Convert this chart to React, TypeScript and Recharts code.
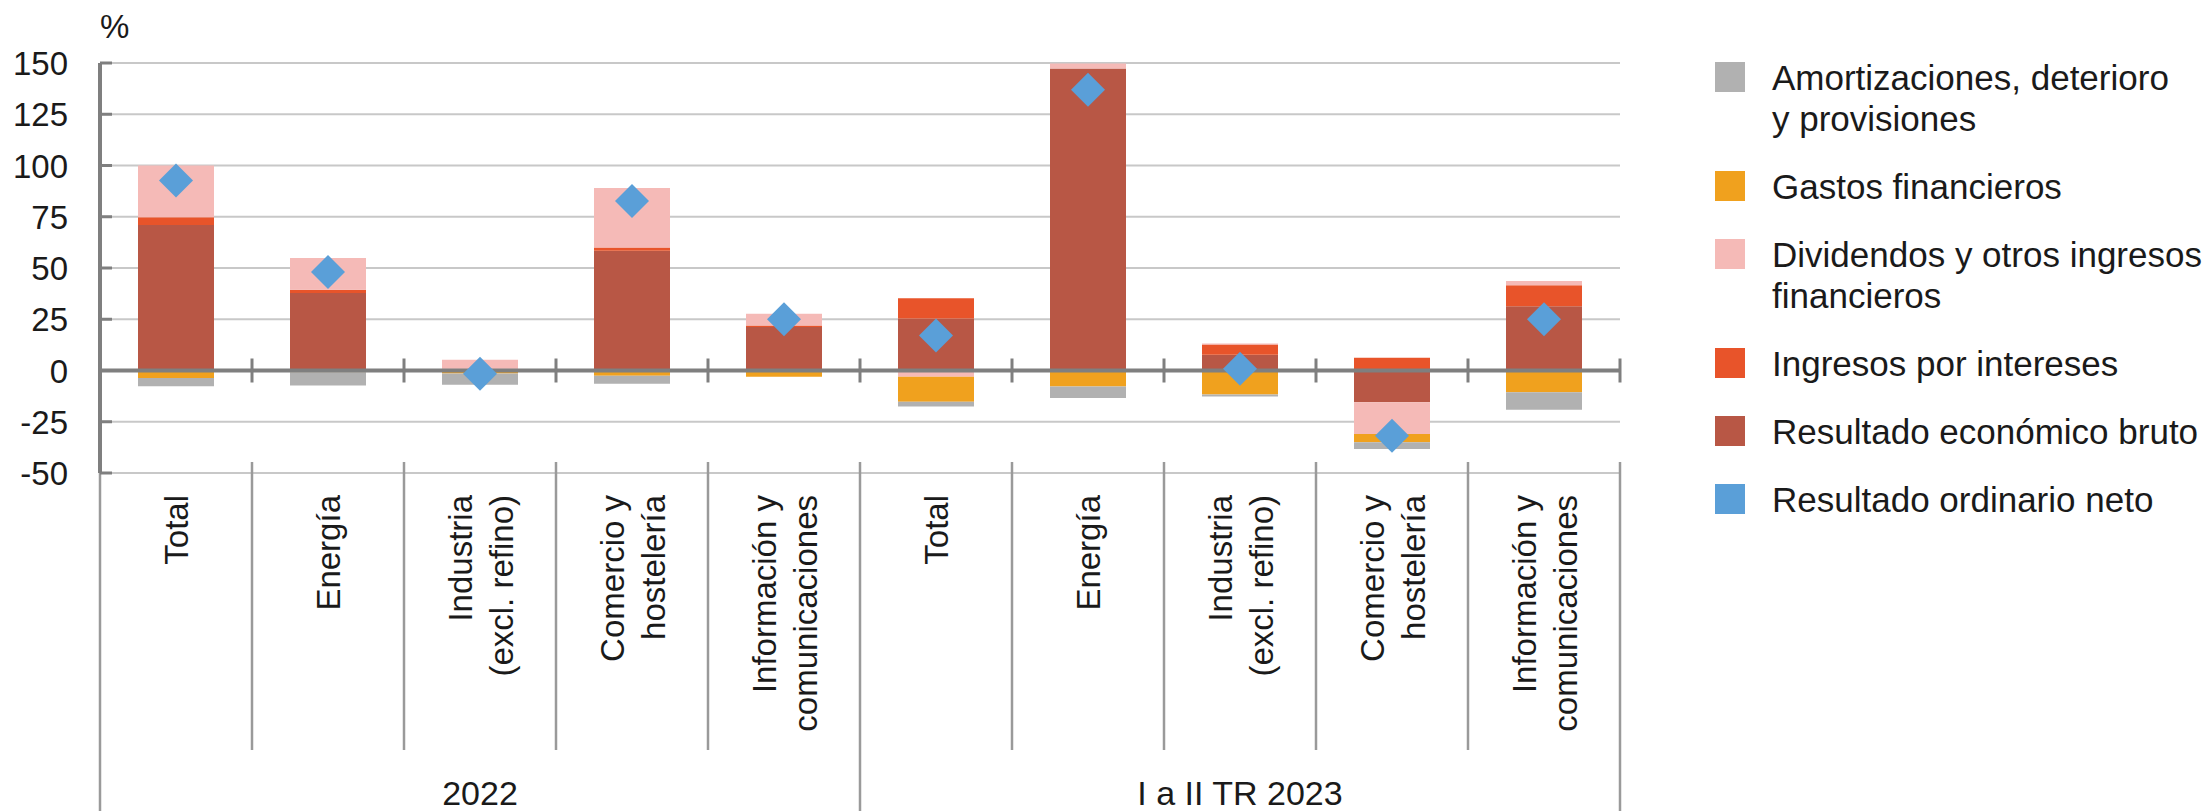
import React from 'react';
import {
  ComposedChart,
  Bar,
  Line,
  XAxis,
  YAxis,
  CartesianGrid,
  ReferenceLine,
} from 'recharts';

// categories
const periods = ['2022', 'I a II TR 2023'];
const sectors = [
  ['Total'],
  ['Energía'],
  ['Industria', '(excl. refino)'],
  ['Comercio y', 'hostelería'],
  ['Información y', 'comunicaciones'],
];

// series values (% ) : 2022 x5, then I a II TR 2023 x5
const resultadoBruto = [71, 37.8, 0.5, 58.4, 21.2, 25.4, 147.3, 7.7, -15.5, 31.3];
const ingresosIntereses = [3.7, 1.6, 0.3, 1.6, 0.8, 9.8, 0, 5, 6.2, 10.3];
const dividendos = [25.3, 15.5, 4.5, 29, 5.7, -3, 2.5, 0.5, -15.5, 2];
const gastosFinancieros = [-3.7, -0.8, -1.5, -2.5, -3, -12.2, -7.8, -11.7, -4, -10.6];
const amortizaciones = [-4, -6.5, -5.5, -4, 0, -2.4, -5.6, -1, -3.3, -8.6];
const resultadoNeto = [92.7, 48.1, -1.6, 82.7, 25, 17.1, 137, 0.8, -31.8, 25];

const yTicks = [-50, -25, 0, 25, 50, 75, 100, 125, 150];

const legendItems = [
  { label: ['Amortizaciones, deterioro', 'y provisiones'], color: '#b1b1b1' },
  { label: ['Gastos financieros'], color: '#f0a11e' },
  { label: ['Dividendos y otros ingresos', 'financieros'], color: '#f5bab7' },
  { label: ['Ingresos por intereses'], color: '#e8542a' },
  { label: ['Resultado económico bruto'], color: '#b85745' },
  { label: ['Resultado ordinario neto'], color: '#5a9fd8' },
];

const data = periods.flatMap((p, pi) =>
  sectors.map((s, si) => {
    const i = pi * sectors.length + si;
    return {
      id: `${pi}-${si}`,
      bruto: resultadoBruto[i],
      intereses: ingresosIntereses[i],
      dividendos: dividendos[i],
      gastos: gastosFinancieros[i],
      amort: amortizaciones[i],
      neto: resultadoNeto[i],
    };
  })
);

const FONT = '"Liberation Sans", Arial, sans-serif';
const W = 2211;
const H = 811;
const PLOT_LEFT = 100;
const PLOT_RIGHT = 1620;
const PLOT_TOP = 63;
const PLOT_BOTTOM = 473;
const CAT_AXIS_H = 277;
const BAND = (PLOT_RIGHT - PLOT_LEFT) / data.length;
const ZERO_Y = PLOT_TOP + ((PLOT_BOTTOM - PLOT_TOP) * 150) / 200;
const DIVIDER = '#9a9a9a';

const YTick = (props: any) => {
  const { x, y, payload } = props;
  return (
    <g>
      <line x1={PLOT_LEFT} x2={PLOT_LEFT + 12} y1={y} y2={y} stroke="#7f7f7f" strokeWidth={3} />
      <text x={x} y={y} dy={12} textAnchor="end" fontSize={33} fontFamily={FONT} fill="#1a1a1a">
        {payload.value}
      </text>
    </g>
  );
};

const CatTick = (props: any) => {
  const { x, y, payload, index } = props;
  const i = typeof index === 'number' ? index : payload.index;
  const lines = sectors[i % sectors.length];
  const right = x + BAND / 2;
  const groupEnd = i % sectors.length === sectors.length - 1;
  return (
    <g>
      {i === 0 && (
        <line x1={x - BAND / 2} x2={x - BAND / 2} y1={y} y2={H} stroke={DIVIDER} strokeWidth={2.5} />
      )}
      <line
        x1={right}
        x2={right}
        y1={y - 11}
        y2={groupEnd ? H : y + CAT_AXIS_H}
        stroke={DIVIDER}
        strokeWidth={2.5}
      />
      <line x1={right} x2={right} y1={ZERO_Y - 12} y2={ZERO_Y + 12} stroke="#7f7f7f" strokeWidth={3} />
      <text
        transform={`translate(${x},${y + 22}) rotate(-90)`}
        textAnchor="end"
        fontSize={33}
        fontFamily={FONT}
        fill="#1a1a1a"
      >
        {lines.map((l, k) => (
          <tspan key={k} x={0} y={lines.length === 1 ? 12 : k === 0 ? -8.5 : 32.5}>
            {l}
          </tspan>
        ))}
      </text>
    </g>
  );
};

const GroupTick = (props: any) => {
  const { x, y, payload, index } = props;
  const i = typeof index === 'number' ? index : payload.index;
  if (i % sectors.length !== 2) return <g />;
  return (
    <text x={x} y={y} dy={55} textAnchor="middle" fontSize={34} fontFamily={FONT} fill="#1a1a1a">
      {periods[Math.floor(i / sectors.length)]}
    </text>
  );
};

const Diamond = (props: any) => {
  const { cx, cy } = props;
  if (cx == null || cy == null) return null;
  const r = 17;
  return (
    <polygon
      points={`${cx},${cy - r} ${cx + r},${cy} ${cx},${cy + r} ${cx - r},${cy}`}
      fill="#5a9fd8"
    />
  );
};

export default function App() {
  return (
    <div style={{ position: 'absolute', left: 0, top: 0, width: W, height: H, background: '#fff' }}>
      <ComposedChart
        width={W}
        height={H}
        data={data}
        stackOffset="sign"
        barCategoryGap="25%"
        margin={{ top: PLOT_TOP, right: W - PLOT_RIGHT, left: 0, bottom: 0 }}
      >
        <CartesianGrid xAxisId="cat" vertical={false} stroke="#c8c8c8" strokeWidth={2} />
        <XAxis
          xAxisId="cat"
          dataKey="id"
          height={CAT_AXIS_H}
          interval={0}
          tickSize={0}
          tickMargin={0}
          tickLine={false}
          axisLine={{ stroke: '#c8c8c8', strokeWidth: 2 }}
          tick={<CatTick />}
        />
        <XAxis
          xAxisId="grp"
          dataKey="id"
          height={H - PLOT_BOTTOM - CAT_AXIS_H}
          interval={0}
          tickSize={0}
          tickMargin={0}
          tickLine={false}
          axisLine={false}
          tick={<GroupTick />}
        />
        <YAxis
          width={PLOT_LEFT}
          domain={[-50, 150]}
          ticks={yTicks}
          interval={0}
          tickSize={0}
          tickMargin={32}
          tickLine={false}
          axisLine={{ stroke: '#7f7f7f', strokeWidth: 4 }}
          tick={<YTick />}
        />
        <Bar xAxisId="cat" dataKey="bruto" stackId="a" fill="#b85745" isAnimationActive={false} />
        <Bar xAxisId="cat" dataKey="intereses" stackId="a" fill="#e8542a" isAnimationActive={false} />
        <Bar xAxisId="cat" dataKey="dividendos" stackId="a" fill="#f5bab7" isAnimationActive={false} />
        <Bar xAxisId="cat" dataKey="gastos" stackId="a" fill="#f0a11e" isAnimationActive={false} />
        <Bar xAxisId="cat" dataKey="amort" stackId="a" fill="#b1b1b1" isAnimationActive={false} />
        <ReferenceLine xAxisId="cat" y={0} stroke="#7f7f7f" strokeWidth={4} />
        <Line
          xAxisId="cat"
          dataKey="neto"
          stroke="none"
          dot={<Diamond />}
          activeDot={false}
          isAnimationActive={false}
        />
      </ComposedChart>

      <div
        style={{
          position: 'absolute',
          left: 100,
          top: 7,
          fontSize: 33,
          lineHeight: '40px',
          fontFamily: FONT,
          color: '#1a1a1a',
        }}
      >
        %
      </div>

      <div style={{ position: 'absolute', left: 1715, top: 57, fontFamily: FONT, color: '#1a1a1a' }}>
        {legendItems.map((it, k) => (
          <div key={k} style={{ display: 'flex', alignItems: 'flex-start', marginBottom: 27 }}>
            <div
              style={{ width: 30, height: 30, background: it.color, marginTop: 5, marginRight: 27, flex: 'none' }}
            />
            <div style={{ fontSize: 35, lineHeight: '41px', whiteSpace: 'nowrap' }}>
              {it.label.map((l, j) => (
                <div key={j}>{l}</div>
              ))}
            </div>
          </div>
        ))}
      </div>
    </div>
  );
}
